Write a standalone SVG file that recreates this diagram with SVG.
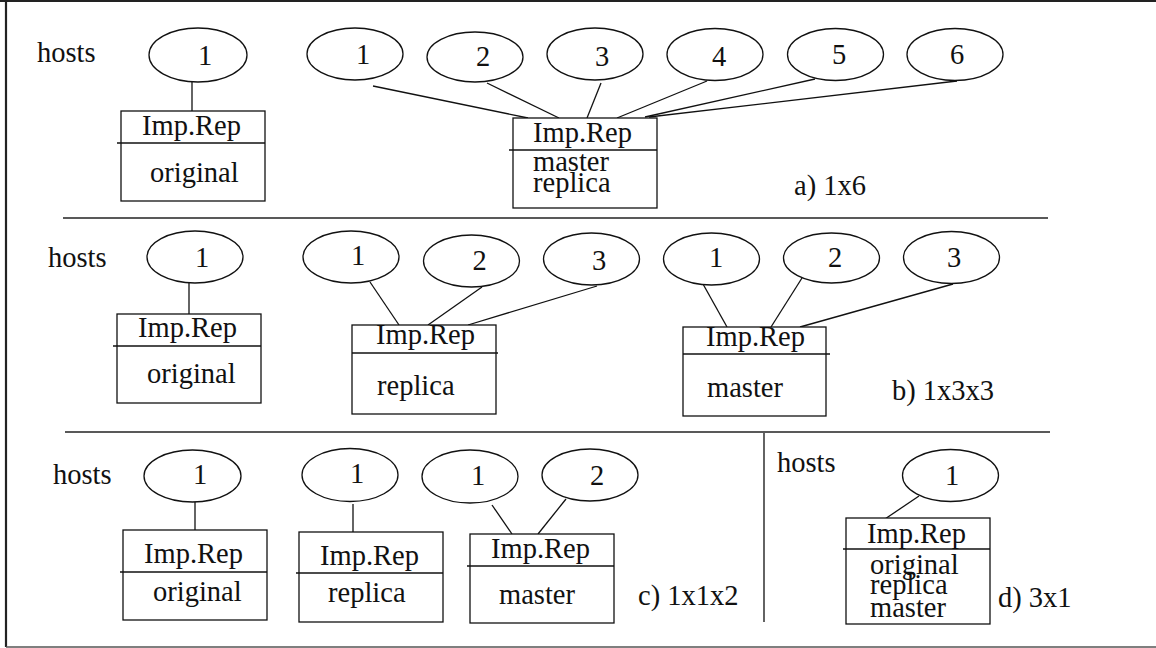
<svg xmlns="http://www.w3.org/2000/svg" width="1156" height="648" viewBox="0 0 1156 648">
  <style>
    text { font-family: "Liberation Serif", "Times New Roman", serif; font-size: 28.5px; fill: #111; }
    .dg { text-anchor: middle; }
    ellipse, rect { fill: #fff; stroke: #111; stroke-width: 1.3; }
    line { stroke: #111; stroke-width: 1.3; }
    .frame { stroke: #222; stroke-width: 2.2; }
    .rule { stroke: #222; stroke-width: 1.4; }
  </style>
  <rect x="0" y="0" width="1156" height="648" style="fill:#fff;stroke:none"/>

  <!-- outer frame (open on the right) -->
  <g id="frame">
    <line class="frame" x1="0" y1="1" x2="1156" y2="1"/>
    <line class="frame" x1="6" y1="0" x2="6" y2="647"/>
    <line class="rule" x1="6" y1="647" x2="1156" y2="647" style="stroke:#555"/>
  </g>

  <!-- separators between configurations -->
  <g id="separators">
    <line class="rule" x1="63" y1="218" x2="1048" y2="218"/>
    <line class="rule" x1="65" y1="432" x2="1050" y2="432"/>
    <line class="rule" x1="764" y1="433" x2="764" y2="622"/>
  </g>

  <!-- connectors from hosts to implementation repositories -->
  <g id="connectors">
    <!-- a) -->
    <line x1="192" y1="82" x2="192" y2="111"/>
    <line x1="373" y1="86" x2="528" y2="118"/>
    <line x1="487" y1="83" x2="559" y2="118"/>
    <line x1="601" y1="83" x2="587" y2="118"/>
    <line x1="707" y1="81" x2="617" y2="118"/>
    <line x1="815" y1="79" x2="645" y2="117"/>
    <line x1="957" y1="81" x2="649" y2="117"/>
    <!-- b) -->
    <line x1="189" y1="283" x2="189" y2="314"/>
    <line x1="370" y1="282" x2="399" y2="325"/>
    <line x1="482" y1="287" x2="428" y2="325"/>
    <line x1="597" y1="286" x2="468" y2="325"/>
    <line x1="703" y1="284" x2="727" y2="327"/>
    <line x1="802" y1="278" x2="771" y2="327"/>
    <line x1="953" y1="284" x2="800" y2="327"/>
    <!-- c) -->
    <line x1="195" y1="502" x2="195" y2="530"/>
    <line x1="353" y1="504" x2="353" y2="532"/>
    <line x1="492" y1="505" x2="512" y2="534"/>
    <line x1="566" y1="499" x2="538" y2="534"/>
    <!-- d) -->
    <line x1="919" y1="496" x2="882" y2="521"/>
  </g>

  <!-- a) 1x6 -->
  <g id="a-label">
    <text x="37" y="62">hosts</text>
    <text x="794" y="195">a) 1x6</text>
  </g>
  <g id="a-host-single">
    <ellipse cx="198" cy="55" rx="49" ry="27"/>
    <text class="dg" x="205" y="65">1</text>
  </g>
  <g id="a-repo-original">
    <rect x="121" y="111" width="144" height="90"/>
    <line x1="117" y1="143" x2="265" y2="143"/>
    <text x="142" y="135">Imp.Rep</text>
    <text x="150" y="182">original</text>
  </g>
  <g id="a-host-1"><ellipse cx="355" cy="54" rx="48" ry="26"/><text class="dg" x="363" y="64">1</text></g>
  <g id="a-host-2"><ellipse cx="475" cy="57" rx="48" ry="25"/><text class="dg" x="483" y="66">2</text></g>
  <g id="a-host-3"><ellipse cx="595" cy="54" rx="48" ry="26"/><text class="dg" x="602" y="66">3</text></g>
  <g id="a-host-4"><ellipse cx="715" cy="54.5" rx="48" ry="26"/><text class="dg" x="719" y="66">4</text></g>
  <g id="a-host-5"><ellipse cx="835.5" cy="54.5" rx="48" ry="26"/><text class="dg" x="839" y="64">5</text></g>
  <g id="a-host-6"><ellipse cx="955" cy="54.5" rx="48" ry="26"/><text class="dg" x="957" y="64">6</text></g>
  <g id="a-repo-master-replica">
    <rect x="513" y="118" width="144" height="90"/>
    <line x1="509" y1="150" x2="657" y2="150"/>
    <text x="533" y="142">Imp.Rep</text>
    <text x="533" y="171">master</text>
    <text x="533" y="192">replica</text>
  </g>

  <!-- b) 1x3x3 -->
  <g id="b-label">
    <text x="48" y="267">hosts</text>
    <text x="892" y="400">b) 1x3x3</text>
  </g>
  <g id="b-host-single"><ellipse cx="195" cy="257" rx="48" ry="26"/><text class="dg" x="202" y="267">1</text></g>
  <g id="b-repo-original">
    <rect x="117" y="314" width="144" height="89"/>
    <line x1="113" y1="346" x2="261" y2="346"/>
    <text x="138" y="337">Imp.Rep</text>
    <text x="147" y="383">original</text>
  </g>
  <g id="b-replica-host-1"><ellipse cx="351" cy="257" rx="48" ry="26"/><text class="dg" x="358" y="265">1</text></g>
  <g id="b-replica-host-2"><ellipse cx="471.5" cy="261" rx="48" ry="26"/><text class="dg" x="479.5" y="270">2</text></g>
  <g id="b-replica-host-3"><ellipse cx="591.5" cy="259" rx="48" ry="26"/><text class="dg" x="599" y="270">3</text></g>
  <g id="b-repo-replica">
    <rect x="352" y="325" width="144" height="89"/>
    <line x1="352" y1="353" x2="498" y2="353"/>
    <text x="376" y="344">Imp.Rep</text>
    <text x="377" y="395">replica</text>
  </g>
  <g id="b-master-host-1"><ellipse cx="711.5" cy="259" rx="48" ry="26"/><text class="dg" x="716" y="267">1</text></g>
  <g id="b-master-host-2"><ellipse cx="831.5" cy="258" rx="48" ry="25"/><text class="dg" x="835" y="267">2</text></g>
  <g id="b-master-host-3"><ellipse cx="951.5" cy="257.5" rx="48" ry="26"/><text class="dg" x="954" y="267">3</text></g>
  <g id="b-repo-master">
    <rect x="683" y="327" width="143" height="89"/>
    <line x1="683" y1="354" x2="830" y2="354"/>
    <text x="706" y="346">Imp.Rep</text>
    <text x="707" y="397">master</text>
  </g>

  <!-- c) 1x1x2 -->
  <g id="c-label">
    <text x="53" y="484">hosts</text>
    <text x="638" y="605">c) 1x1x2</text>
  </g>
  <g id="c-host-original"><ellipse cx="192.5" cy="476" rx="48.5" ry="26"/><text class="dg" x="200" y="484">1</text></g>
  <g id="c-repo-original">
    <rect x="123" y="530" width="144" height="90"/>
    <line x1="120" y1="572" x2="267" y2="572"/>
    <text x="144" y="563">Imp.Rep</text>
    <text x="153" y="601">original</text>
  </g>
  <g id="c-host-replica"><ellipse cx="350" cy="475" rx="48" ry="26.5"/><text class="dg" x="357" y="483">1</text></g>
  <g id="c-repo-replica">
    <rect x="299" y="532" width="144" height="90"/>
    <line x1="296" y1="573" x2="443" y2="573"/>
    <text x="320" y="565">Imp.Rep</text>
    <text x="328" y="602">replica</text>
  </g>
  <g id="c-master-host-1"><ellipse cx="470" cy="476.5" rx="48" ry="26.5"/><text class="dg" x="478" y="485">1</text></g>
  <g id="c-master-host-2"><ellipse cx="590" cy="475" rx="48" ry="26"/><text class="dg" x="597" y="485">2</text></g>
  <g id="c-repo-master">
    <rect x="470" y="534" width="144" height="89"/>
    <line x1="467" y1="566" x2="614" y2="566"/>
    <text x="491" y="558">Imp.Rep</text>
    <text x="499" y="604">master</text>
  </g>

  <!-- d) 3x1 -->
  <g id="d-label">
    <text x="777" y="472">hosts</text>
    <text x="998" y="607">d) 3x1</text>
  </g>
  <g id="d-host"><ellipse cx="950.5" cy="475.5" rx="48" ry="26"/><text class="dg" x="952" y="485">1</text></g>
  <g id="d-repo-all">
    <rect x="846" y="518" width="144" height="106"/>
    <line x1="843" y1="549" x2="990" y2="549"/>
    <text x="867" y="543">Imp.Rep</text>
    <text x="870" y="574">original</text>
    <text x="870" y="594">replica</text>
    <text x="870" y="617">master</text>
  </g>
</svg>
